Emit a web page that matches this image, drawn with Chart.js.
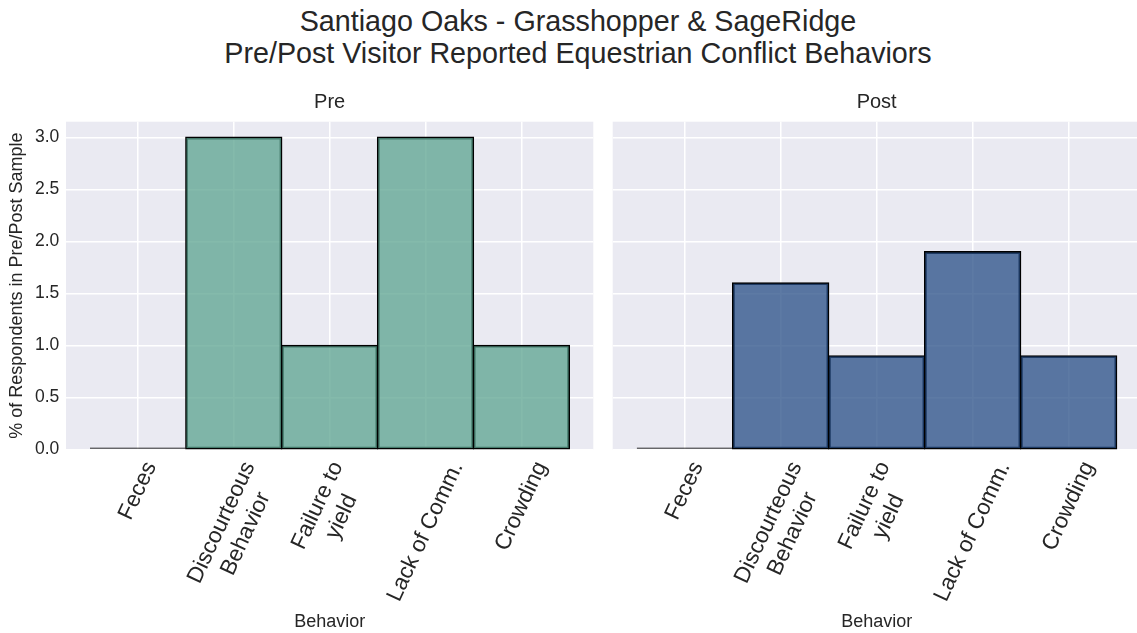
<!DOCTYPE html>
<html>
<head>
<meta charset="utf-8">
<script src="https://cdn.jsdelivr.net/npm/chart.js@4.4.0/dist/chart.umd.min.js"></script>
<style>
html, body { margin: 0; padding: 0; background: #fff; width: 1137px; height: 633px; overflow: hidden; position: relative; }
#suptitle { position: absolute; left: 0; top: 6px; width: 1156px; text-align: center; font-family: 'Liberation Sans', Arial, sans-serif; font-size: 28.7px; line-height: 31.6px; color: #262626; }
canvas { position: absolute; top: 0; }
#preChart { left: 0; }
#postChart { left: 603px; }
</style>
</head>
<body>
<div id="suptitle">Santiago Oaks - Grasshopper &amp; SageRidge<br>Pre/Post Visitor Reported Equestrian Conflict Behaviors</div>
<canvas id="preChart" width="603" height="633" style="width:603px;height:633px"></canvas>
<canvas id="postChart" width="540" height="633" style="width:540px;height:633px"></canvas>
<script>
// data
var behaviors = [['Feces'], ['Discourteous', 'Behavior'], ['Failure to', 'yield'], ['Lack of Comm.'], ['Crowding']];
var preValues = [0, 3.0, 1.0, 3.0, 1.0];
var postValues = [0, 1.6, 0.9, 1.9, 0.9];
var yTicks = [0, 0.5, 1.0, 1.5, 2.0, 2.5, 3.0];

var FONT = "'Liberation Sans', Arial, sans-serif";
var TEXT = '#262626';

Chart.defaults.font.family = FONT;
Chart.defaults.color = TEXT;

var panel = {};

// grey plot background
panel.backdrop = {
	id: 'backdrop',
	beforeDraw: function(chart){
		var a = chart.chartArea;
		var ctx = chart.ctx;
		ctx.save();
		ctx.fillStyle = '#eaeaf2';
		ctx.fillRect(a.left, a.top, a.right - a.left, a.bottom - a.top);
		ctx.restore();
	}
};

// rotated category labels, centred under each tick like matplotlib
panel.tickLabels = {
	id: 'tickLabels',
	afterDraw: function(chart){
		var xs = chart.scales.x;
		var ctx = chart.ctx;
		var ang = 65 * Math.PI / 180;
		var lh = 26.6;
		var pad = 8;
		ctx.save();
		ctx.font = '22.5px ' + FONT;
		ctx.fillStyle = TEXT;
		ctx.textAlign = 'center';
		ctx.textBaseline = 'middle';
		behaviors.forEach(function(lines, i){
			var w = 0;
			lines.forEach(function(l){ w = Math.max(w, ctx.measureText(l).width); });
			var h = lines.length * lh;
			var bh = w * Math.sin(ang) + h * Math.cos(ang);
			var cx = xs.getPixelForValue(i);
			var cy = chart.chartArea.bottom + pad + bh / 2;
			ctx.save();
			ctx.translate(cx, cy);
			ctx.rotate(-ang);
			lines.forEach(function(l, k){
				ctx.fillText(l, 0, (k - (lines.length - 1) / 2) * lh);
			});
			ctx.restore();
		});
		ctx.restore();
	}
};

panel.isZero = function(c){
	return c.raw && c.raw.y === 0;
};

panel.make = function(id, title, values, fill, withYAxis, padLeft, padRight){
	var ctx = document.getElementById(id);
	return new Chart(ctx, {
		type: 'bar',
		data: {
			datasets: [{
				data: values.map(function(v, i){ return {x: i, y: v}; }),
				// an empty bin shows only as its black edge line
				backgroundColor: function(c){ return panel.isZero(c) ? '#000' : fill; },
				borderColor: '#000',
				borderWidth: 1.4,
				inflateAmount: function(c){ return panel.isZero(c) ? 0 : 0.7; },
				borderSkipped: false,
				minBarLength: 2,
				barPercentage: 1,
				categoryPercentage: 1,
				clip: false
			}]
		},
		options: {
			responsive: false,
			animation: false,
			devicePixelRatio: 1,
			layout: { padding: { left: padLeft, right: padRight, top: 0, bottom: 0 } },
			plugins: {
				legend: { display: false },
				tooltip: { enabled: false },
				title: {
					display: true,
					text: title,
					fullSize: false,
					color: TEXT,
					font: { size: 20, weight: 'normal' },
					padding: { top: 90.9, bottom: 6.8 }
				}
			},
			scales: {
				x: {
					type: 'linear',
					min: -0.75,
					max: 4.75,
					offset: false,
					border: { display: false },
					grid: { color: '#fff', lineWidth: 1.5, drawTicks: false, offset: false },
					ticks: { display: false },
					afterBuildTicks: function(s){
						s.ticks = behaviors.map(function(b, i){ return { value: i }; });
					},
					afterFit: function(s){ s.height = 183.5; },
					title: { display: true, text: 'Behavior', color: TEXT, font: { size: 18 }, padding: { top: 0, bottom: 0 } }
				},
				y: {
					min: 0,
					max: 3.15,
					border: { display: false },
					grid: { color: '#fff', lineWidth: 1.5, drawTicks: false },
					ticks: {
						display: withYAxis,
						padding: 6.7,
						font: { size: 17.5 },
						callback: function(v){ return v.toFixed(1); }
					},
					afterBuildTicks: function(s){
						s.ticks = yTicks.map(function(v){ return { value: v }; });
					},
					afterFit: function(s){ s.width = withYAxis ? 66 : 0; },
					title: { display: withYAxis, text: '% of Respondents in Pre/Post Sample', color: TEXT, font: { size: 18 }, padding: { top: 6, bottom: 0 } }
				}
			}
		},
		plugins: [panel.backdrop, panel.tickLabels]
	});
};

panel.pre = panel.make('preChart', 'Pre', preValues, 'rgba(91,163,143,0.75)', true, 0, 9.7);
panel.post = panel.make('postChart', 'Post', postValues, 'rgba(39,77,133,0.75)', false, 9.7, 2.4);
</script>
</body>
</html>
